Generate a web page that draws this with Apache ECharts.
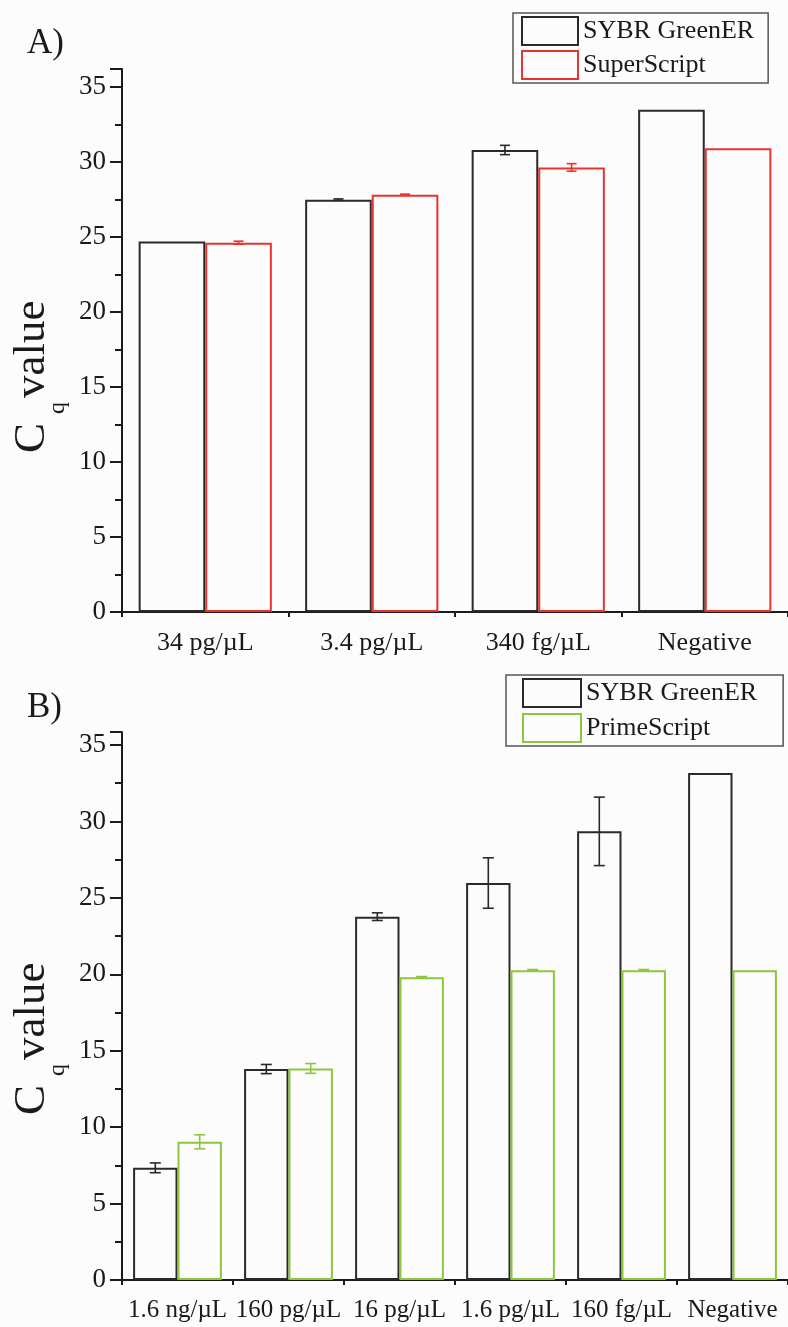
<!DOCTYPE html>
<html>
<head>
<meta charset="utf-8">
<script src="https://cdn.jsdelivr.net/npm/echarts@6/dist/echarts.min.js"></script>
<style>
html,body{margin:0;padding:0;background:#fcfcfc;}
#chart{width:788px;height:1327px;}
</style>
</head>
<body>
<div id="chart"></div>
<script>
// ---- Data ----
const catsA = ['34 pg/µL', '3.4 pg/µL', '340 fg/µL', 'Negative'];
const sybrA = [24.70, 27.49, 30.80, 33.49];
const sybrAErr = [0, 0.05, 0.31, null];
const superA = [24.62, 27.82, 29.64, 30.91];
const superAErr = [0.10, 0.04, 0.25, null];

const catsB = ['1.6 ng/µL', '160 pg/µL', '16 pg/µL', '1.6 pg/µL', '160 fg/µL', 'Negative'];
const sybrB = [7.34, 13.80, 23.77, 25.97, 29.35, 33.17];
const sybrBErr = [0.32, 0.30, 0.25, 1.65, 2.24, null];
const primeB = [9.04, 13.84, 19.80, 20.26, 20.26, 20.26];
const primeBErr = [0.46, 0.32, 0.05, 0.05, 0.05, null];

const yTicks = [0, 5, 10, 15, 20, 25, 30, 35];

// ---- Styles ----
const FONT = 'Liberation Serif';
const INK = '#1a1a1a';
const BLACK = '#2a2a2a';
const RED = '#e8332f';
const GREEN = '#8cc63f';
const BG = '#fcfcfc';

function errData(vals, errs) {
  const out = [];
  vals.forEach((v, i) => {
    if (errs[i] != null && errs[i] > 0) out.push([i, v - errs[i], v + errs[i]]);
  });
  return out;
}

function errSeries(name, vals, errs, axisIdx, sign, color, capPx) {
  return {
    type: 'custom', name: name + ' err', xAxisIndex: axisIdx * 2, yAxisIndex: axisIdx,
    z: 5, silent: true,
    data: errData(vals, errs),
    encode: { x: 0, y: [1, 2] },
    renderItem: function (params, api) {
      const i = api.value(0);
      const lo = api.coord([i, api.value(1)]);
      const hi = api.coord([i, api.value(2)]);
      const band = api.size([1, 0])[0];
      const x = lo[0] + sign * band * 0.2;
      const st = { stroke: color, lineWidth: 1.6 };
      return {
        type: 'group',
        children: [
          { type: 'line', shape: { x1: x, y1: lo[1], x2: x, y2: hi[1] }, style: st },
          { type: 'line', shape: { x1: x - capPx / 2, y1: lo[1], x2: x + capPx / 2, y2: lo[1] }, style: st },
          { type: 'line', shape: { x1: x - capPx / 2, y1: hi[1], x2: x + capPx / 2, y2: hi[1] }, style: st }
        ]
      };
    }
  };
}

function barSeries(name, vals, idx, color) {
  return {
    type: 'bar', name: name, xAxisIndex: idx * 2, yAxisIndex: idx,
    data: vals, barGap: '0%', barCategoryGap: '20%',
    itemStyle: { color: 'rgba(0,0,0,0)', borderColor: color, borderWidth: 2 },
    emphasis: { disabled: true }
  };
}

function xAxes(cats, idx, margin, fs) {
  return [
    {
      type: 'category', gridIndex: idx, data: cats, position: 'bottom',
      axisLine: { lineStyle: { color: INK, width: 2 } },
      axisTick: { alignWithLabel: true, length: 10, lineStyle: { color: INK, width: 2 } },
      axisLabel: { color: INK, fontFamily: FONT, fontSize: fs, margin: margin, interval: 0 }
    },
    {
      type: 'category', gridIndex: idx, data: cats, position: 'bottom',
      axisLine: { show: false },
      axisTick: { show: true, length: 5, lineStyle: { color: INK, width: 2 } },
      axisLabel: { show: false }
    }
  ];
}

function yAxis(idx, max) {
  return {
    type: 'value', gridIndex: idx, min: 0, max: max, interval: 5,
    axisLine: { show: true, lineStyle: { color: INK, width: 2 } },
    axisTick: { show: true, length: 12, lineStyle: { color: INK, width: 2 } },
    minorTick: { show: true, splitNumber: 2, length: 7, lineStyle: { color: INK, width: 2 } },
    splitLine: { show: false },
    axisLabel: {
      color: INK, fontFamily: FONT, fontSize: 27, margin: 16,
      formatter: function (v) { return yTicks.indexOf(v) >= 0 ? String(v) : ''; }
    }
  };
}

function legendItem(name, color) {
  return { name: name, itemStyle: { color: 'rgba(0,0,0,0)', borderColor: color, borderWidth: 2 } };
}

function yTitle(dy) {
  const base = { fill: INK, fontFamily: FONT };
  return [
    { type: 'text', x: 32, y: 453 + dy, rotation: Math.PI / 2,
      style: Object.assign({ text: 'C', fontSize: 45, textAlign: 'left', textVerticalAlign: 'middle' }, base) },
    { type: 'text', x: 58, y: 414 + dy, rotation: Math.PI / 2,
      style: Object.assign({ text: 'q', fontSize: 24, textAlign: 'left', textVerticalAlign: 'middle' }, base) },
    { type: 'text', x: 32, y: 398 + dy, rotation: Math.PI / 2,
      style: Object.assign({ text: 'value', fontSize: 45, textAlign: 'left', textVerticalAlign: 'middle' }, base) }
  ];
}

const chart = echarts.init(document.getElementById('chart'), null, { renderer: 'canvas' });
chart.setOption({
  backgroundColor: BG,
  animation: false,
  grid: [
    { left: 122, top: 69, width: 668, height: 543 },
    { left: 122, top: 732, width: 667, height: 548 }
  ],
  xAxis: [].concat(xAxes(catsA, 0, 18, 26), xAxes(catsB, 1, 18, 25)),
  yAxis: [yAxis(0, 36.2), yAxis(1, 35.85)],
  legend: [
    {
      orient: 'vertical', left: 513, top: 13, itemWidth: 56, itemHeight: 28, itemGap: 4,
      padding: [3, 14, 3, 8], borderColor: '#555', borderWidth: 1.5, icon: 'rect',
      textStyle: { color: INK, fontFamily: FONT, fontSize: 26 },
      selectedMode: false,
      data: [legendItem('SYBR GreenER', BLACK), legendItem('SuperScript', RED)]
    },
    {
      orient: 'vertical', left: 506, top: 675, itemWidth: 58, itemHeight: 28, itemGap: 5,
      padding: [3, 26, 3, 16], borderColor: '#555', borderWidth: 1.5, icon: 'rect',
      textStyle: { color: INK, fontFamily: FONT, fontSize: 26 },
      selectedMode: false,
      data: [legendItem('SYBR GreenER', BLACK), legendItem('PrimeScript', GREEN)]
    }
  ],
  graphic: [
    { type: 'text', x: 27, y: 44, style: { text: 'A)', fill: INK, fontFamily: FONT, fontSize: 35, textVerticalAlign: 'middle' } },
    { type: 'text', x: 27, y: 708, style: { text: 'B)', fill: INK, fontFamily: FONT, fontSize: 35, textVerticalAlign: 'middle' } }
  ].concat(yTitle(0), yTitle(662)),
  series: [
    barSeries('SYBR GreenER', sybrA, 0, BLACK),
    barSeries('SuperScript', superA, 0, RED),
    errSeries('SYBR GreenER', sybrA, sybrAErr, 0, -1, BLACK, 10),
    errSeries('SuperScript', superA, superAErr, 0, 1, RED, 10),
    barSeries('SYBR GreenER', sybrB, 1, BLACK),
    barSeries('PrimeScript', primeB, 1, GREEN),
    errSeries('SYBR GreenER', sybrB, sybrBErr, 1, -1, BLACK, 11),
    errSeries('PrimeScript', primeB, primeBErr, 1, 1, GREEN, 11)
  ]
});
</script>
</body>
</html>
